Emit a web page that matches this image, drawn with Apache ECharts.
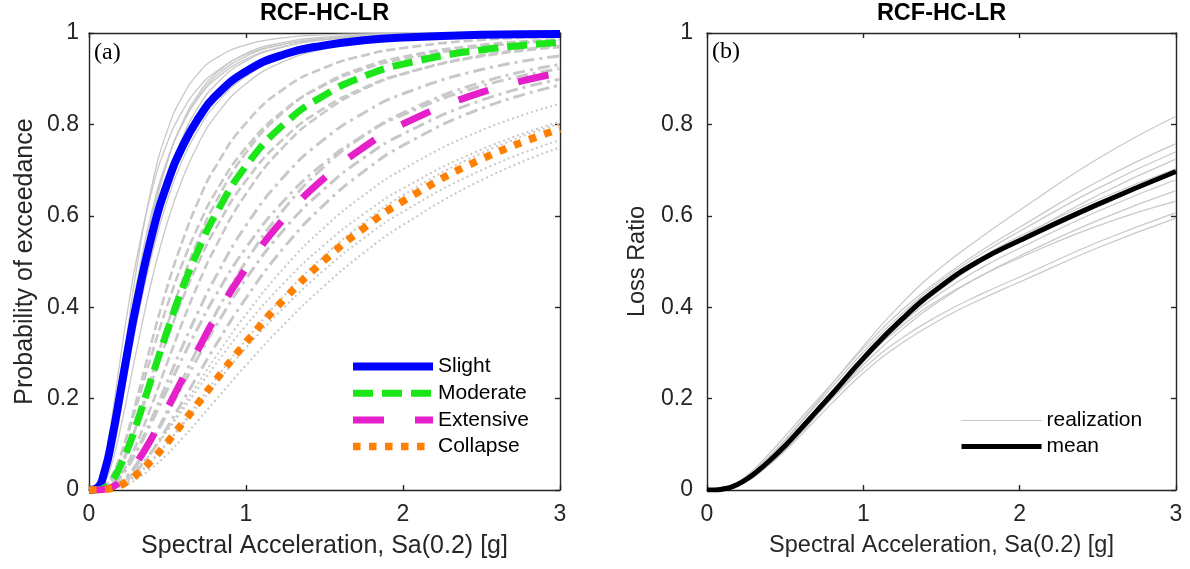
<!DOCTYPE html>
<html>
<head>
<meta charset="utf-8">
<title>RCF-HC-LR</title>
<script src="https://cdn.jsdelivr.net/npm/echarts@6/dist/echarts.min.js"></script>
<style>
  html, body { margin: 0; padding: 0; background: #fff; }
  #chart { width: 1190px; height: 569px; }
</style>
</head>
<body>
<div id="chart"></div>
<script>
// Sa(0.2) [g] sample points shared by every curve
let saGrid = [0, 0.05, 0.1, 0.15, 0.2, 0.25, 0.3, 0.4, 0.5, 0.6, 0.7, 0.8, 1.0, 1.25, 1.5, 1.75, 2.0, 2.5, 3.0];

// (a) fragility, mean curves
let slightMean    = [0, 0.004, 0.042, 0.119, 0.214, 0.312, 0.403, 0.557, 0.672, 0.755, 0.815, 0.860, 0.916, 0.954, 0.973, 0.984, 0.990, 0.996, 0.998];
let moderateMean  = [0, 0, 0.005, 0.022, 0.053, 0.093, 0.141, 0.246, 0.350, 0.445, 0.528, 0.599, 0.709, 0.803, 0.864, 0.905, 0.932, 0.963, 0.979];
let extensiveMean = [0, 0, 0.002, 0.007, 0.019, 0.036, 0.058, 0.114, 0.179, 0.246, 0.311, 0.374, 0.485, 0.597, 0.683, 0.750, 0.801, 0.870, 0.913];
let collapseMean  = [0, 0, 0.001, 0.004, 0.010, 0.020, 0.033, 0.065, 0.105, 0.148, 0.192, 0.237, 0.323, 0.420, 0.503, 0.573, 0.632, 0.724, 0.790];

// (a) fragility, grey realizations
let slightReal = [
  [0, 0.006, 0.063, 0.168, 0.288, 0.401, 0.500, 0.655, 0.761, 0.832, 0.881, 0.913, 0.953, 0.976, 0.987, 0.993, 0.996, 0.998, 0.999],
  [0, 0.001, 0.029, 0.113, 0.233, 0.360, 0.478, 0.665, 0.788, 0.864, 0.913, 0.943, 0.974, 0.990, 0.996, 0.998, 0.999, 1, 1],
  [0, 0.002, 0.032, 0.108, 0.212, 0.321, 0.425, 0.598, 0.721, 0.805, 0.862, 0.903, 0.949, 0.976, 0.988, 0.993, 0.996, 0.999, 1],
  [0, 0.001, 0.020, 0.079, 0.168, 0.271, 0.371, 0.548, 0.681, 0.775, 0.840, 0.885, 0.939, 0.971, 0.986, 0.992, 0.996, 0.999, 1],
  [0, 0.002, 0.029, 0.092, 0.176, 0.268, 0.359, 0.514, 0.635, 0.726, 0.791, 0.841, 0.905, 0.947, 0.969, 0.982, 0.988, 0.995, 0.998],
  [0, 0.001, 0.017, 0.063, 0.134, 0.216, 0.301, 0.459, 0.587, 0.685, 0.760, 0.816, 0.889, 0.939, 0.965, 0.979, 0.987, 0.995, 0.998],
  [0, 0.003, 0.044, 0.130, 0.238, 0.346, 0.446, 0.609, 0.724, 0.803, 0.859, 0.897, 0.943, 0.971, 0.985, 0.991, 0.995, 0.998, 0.999],
  [0, 0.001, 0.022, 0.086, 0.184, 0.294, 0.402, 0.586, 0.718, 0.808, 0.868, 0.909, 0.955, 0.980, 0.991, 0.995, 0.998, 0.999, 1]
];
let moderateReal = [
  [0, 0, 0.007, 0.032, 0.075, 0.130, 0.193, 0.325, 0.446, 0.549, 0.635, 0.704, 0.803, 0.880, 0.924, 0.951, 0.967, 0.985, 0.992],
  [0, 0.001, 0.009, 0.034, 0.074, 0.125, 0.181, 0.297, 0.405, 0.500, 0.580, 0.648, 0.749, 0.833, 0.886, 0.921, 0.943, 0.970, 0.983],
  [0, 0, 0.004, 0.019, 0.048, 0.090, 0.139, 0.251, 0.362, 0.463, 0.551, 0.625, 0.738, 0.830, 0.888, 0.925, 0.948, 0.974, 0.986],
  [0, 0, 0.006, 0.024, 0.054, 0.094, 0.139, 0.237, 0.333, 0.422, 0.500, 0.568, 0.677, 0.772, 0.836, 0.880, 0.911, 0.949, 0.969],
  [0, 0, 0.002, 0.012, 0.032, 0.061, 0.098, 0.186, 0.280, 0.371, 0.454, 0.528, 0.648, 0.755, 0.827, 0.877, 0.910, 0.951, 0.972]
];
let extensiveReal = [
  [0, 0, 0.002, 0.011, 0.028, 0.052, 0.083, 0.157, 0.238, 0.318, 0.393, 0.462, 0.579, 0.689, 0.768, 0.825, 0.867, 0.920, 0.950],
  [0, 0, 0.003, 0.013, 0.030, 0.053, 0.082, 0.149, 0.221, 0.292, 0.359, 0.422, 0.530, 0.636, 0.716, 0.776, 0.821, 0.884, 0.922],
  [0, 0, 0.001, 0.005, 0.015, 0.031, 0.052, 0.108, 0.175, 0.245, 0.315, 0.382, 0.500, 0.618, 0.708, 0.775, 0.825, 0.892, 0.931],
  [0, 0, 0.001, 0.007, 0.018, 0.034, 0.055, 0.107, 0.168, 0.231, 0.294, 0.354, 0.462, 0.573, 0.659, 0.727, 0.779, 0.853, 0.899],
  [0, 0, 0.001, 0.004, 0.012, 0.024, 0.040, 0.084, 0.138, 0.196, 0.255, 0.313, 0.420, 0.534, 0.625, 0.697, 0.754, 0.835, 0.886]
];
let collapseReal = [
  [0, 0, 0.001, 0.005, 0.014, 0.026, 0.042, 0.083, 0.132, 0.184, 0.236, 0.288, 0.384, 0.489, 0.575, 0.645, 0.702, 0.787, 0.845],
  [0, 0, 0.002, 0.007, 0.016, 0.029, 0.045, 0.084, 0.130, 0.177, 0.225, 0.272, 0.360, 0.456, 0.537, 0.604, 0.660, 0.745, 0.806],
  [0, 0, 0.001, 0.004, 0.010, 0.019, 0.031, 0.064, 0.104, 0.148, 0.194, 0.240, 0.328, 0.428, 0.513, 0.585, 0.645, 0.737, 0.802],
  [0, 0, 0.001, 0.005, 0.011, 0.021, 0.034, 0.065, 0.103, 0.144, 0.186, 0.229, 0.311, 0.402, 0.482, 0.551, 0.609, 0.700, 0.766],
  [0, 0, 0.001, 0.002, 0.007, 0.013, 0.023, 0.048, 0.079, 0.115, 0.154, 0.194, 0.273, 0.365, 0.447, 0.519, 0.580, 0.678, 0.750]
];

// (b) vulnerability
let lossMean = [0, 0, 0.002, 0.006, 0.013, 0.023, 0.035, 0.064, 0.097, 0.134, 0.172, 0.210, 0.288, 0.375, 0.447, 0.503, 0.546, 0.625, 0.697];
let lossReal = [
  [0, 0, 0.002, 0.007, 0.015, 0.027, 0.041, 0.074, 0.110, 0.150, 0.190, 0.232, 0.315, 0.410, 0.488, 0.552, 0.612, 0.725, 0.818],
  [0, 0, 0.003, 0.009, 0.018, 0.030, 0.045, 0.080, 0.118, 0.157, 0.195, 0.233, 0.310, 0.395, 0.463, 0.523, 0.575, 0.675, 0.758],
  [0, 0, 0.002, 0.007, 0.015, 0.026, 0.040, 0.072, 0.108, 0.147, 0.186, 0.225, 0.302, 0.387, 0.458, 0.516, 0.566, 0.660, 0.740],
  [0, 0, 0.001, 0.004, 0.010, 0.018, 0.029, 0.056, 0.089, 0.125, 0.163, 0.202, 0.280, 0.368, 0.440, 0.499, 0.550, 0.645, 0.724],
  [0, 0, 0.002, 0.006, 0.013, 0.023, 0.036, 0.066, 0.100, 0.137, 0.174, 0.211, 0.285, 0.366, 0.432, 0.485, 0.529, 0.610, 0.679],
  [0, 0, 0.001, 0.004, 0.010, 0.019, 0.030, 0.058, 0.090, 0.126, 0.163, 0.200, 0.274, 0.352, 0.416, 0.468, 0.512, 0.590, 0.655],
  [0, 0, 0.002, 0.006, 0.012, 0.022, 0.034, 0.063, 0.096, 0.131, 0.166, 0.200, 0.266, 0.333, 0.385, 0.428, 0.466, 0.542, 0.607],
  [0, 0, 0.001, 0.004, 0.010, 0.018, 0.029, 0.055, 0.086, 0.120, 0.155, 0.190, 0.256, 0.322, 0.374, 0.417, 0.455, 0.530, 0.595],
  [0, 0, 0.001, 0.005, 0.011, 0.020, 0.032, 0.061, 0.095, 0.132, 0.171, 0.210, 0.290, 0.378, 0.450, 0.508, 0.555, 0.635, 0.703],
  [0, 0, 0.002, 0.006, 0.014, 0.024, 0.037, 0.068, 0.102, 0.139, 0.176, 0.213, 0.285, 0.360, 0.420, 0.468, 0.508, 0.578, 0.632]
];

let stateNames = ['Slight', 'Moderate', 'Extensive', 'Collapse'];
let sansFont = 'Liberation Sans, Arial, Helvetica, sans-serif';
let axisColor = '#262626';
let grey = '#c8c8c8';

function pairs(ys) {
  return saGrid.map(function (x, i) { return [x, ys[i]]; });
}

function curve(panel, ys, lineStyle, name) {
  return {
    name: name,
    type: 'line',
    xAxisIndex: panel * 2,
    yAxisIndex: panel * 2,
    data: pairs(ys),
    symbol: 'none',
    smooth: 0.5,
    silent: true,
    lineStyle: lineStyle
  };
}

function xAxis(grid, position, name, nameSize) {
  let bottom = position === 'bottom';
  return {
    type: 'value', gridIndex: grid, position: position,
    min: 0, max: 3, interval: 1,
    axisLine: { show: true, onZero: false, lineStyle: { color: axisColor, width: 1.4 } },
    axisTick: { show: true, inside: true, length: 5, lineStyle: { color: axisColor, width: 1.4 } },
    axisLabel: { show: bottom, margin: 13, fontSize: 23, color: axisColor, fontFamily: sansFont },
    splitLine: { show: false },
    name: bottom ? name : '',
    nameLocation: 'middle',
    nameGap: 44,
    nameTextStyle: { fontSize: nameSize, color: axisColor, fontFamily: sansFont }
  };
}

function yAxis(grid, position, name, nameSize, labelMargin, nameGap) {
  let left = position === 'left';
  return {
    type: 'value', gridIndex: grid, position: position,
    min: 0, max: 1, interval: 0.2,
    axisLine: { show: true, onZero: false, lineStyle: { color: axisColor, width: 1.4 } },
    axisTick: { show: true, inside: true, length: 5, lineStyle: { color: axisColor, width: 1.4 } },
    axisLabel: { show: left, margin: labelMargin, fontSize: 23, color: axisColor, fontFamily: sansFont },
    splitLine: { show: false },
    name: left ? name : '',
    nameLocation: 'middle',
    nameGap: nameGap,
    nameTextStyle: { fontSize: nameSize, color: axisColor, fontFamily: sansFont }
  };
}

let series = [];
slightReal.forEach(function (ys) { series.push(curve(0, ys, { color: grey, width: 1.3 })); });
moderateReal.forEach(function (ys) { series.push(curve(0, ys, { color: grey, width: 2.6, type: [9, 4] })); });
extensiveReal.forEach(function (ys) { series.push(curve(0, ys, { color: grey, width: 3, type: [12, 5, 3, 5] })); });
collapseReal.forEach(function (ys) { series.push(curve(0, ys, { color: grey, width: 2, type: [2, 3] })); });
series.push(curve(0, slightMean, { color: '#0000ff', width: 8 }, stateNames[0]));
series.push(curve(0, moderateMean, { color: '#1ae61a', width: 7, type: [20, 9] }, stateNames[1]));
series.push(curve(0, extensiveMean, { color: '#e51fc9', width: 7, type: [31, 31] }, stateNames[2]));
series.push(curve(0, collapseMean, { color: '#ff8000', width: 7.5, type: [7.5, 8.5] }, stateNames[3]));
lossReal.forEach(function (ys) { series.push(curve(1, ys, { color: grey, width: 1.2 }, 'realization')); });
series.push(curve(1, lossMean, { color: '#000000', width: 5 }, 'mean'));

// legend icons: line only, the marker circle is made invisible
let legendBase = {
  orient: 'vertical',
  padding: 0,
  itemWidth: 80,
  itemHeight: 21,
  selectedMode: false,
  lineStyle: { width: 'inherit' },
  itemStyle: { color: 'rgba(0,0,0,0)', borderColor: 'rgba(0,0,0,0)', borderWidth: 0, opacity: 0 },
  textStyle: { fontSize: 21, color: '#000', fontFamily: sansFont }
};

let myChart = echarts.init(document.getElementById('chart'), null, { renderer: 'canvas' });
let option = {
  animation: false,
  backgroundColor: '#ffffff',
  grid: [
    { left: 89, top: 33, width: 471, height: 457, containLabel: false, outerBoundsMode: 'none' },
    { left: 707, top: 33, width: 469, height: 457, containLabel: false, outerBoundsMode: 'none' }
  ],
  xAxis: [
    xAxis(0, 'bottom', 'Spectral Acceleration, Sa(0.2) [g]', 25),
    xAxis(0, 'top'),
    xAxis(1, 'bottom', 'Spectral Acceleration, Sa(0.2) [g]', 23.5),
    xAxis(1, 'top')
  ],
  yAxis: [
    yAxis(0, 'left', 'Probability of exceedance', 25, 10, 51),
    yAxis(0, 'right', '', 25, 10, 0),
    yAxis(1, 'left', 'Loss Ratio', 23.5, 14, 57),
    yAxis(1, 'right', '', 23.5, 14, 0)
  ],
  legend: [
    Object.assign({}, legendBase, { data: stateNames, left: 349, top: 356, itemGap: 5.7 }),
    Object.assign({}, legendBase, { data: ['realization', 'mean'], left: 959, top: 410, itemGap: 5 })
  ],
  graphic: [
    { type: 'text', x: 324.5, y: 14, silent: true,
      style: { text: 'RCF-HC-LR', font: 'bold 23.5px ' + sansFont, fill: '#000', align: 'center', verticalAlign: 'middle' } },
    { type: 'text', x: 941.5, y: 14, silent: true,
      style: { text: 'RCF-HC-LR', font: 'bold 23.5px ' + sansFont, fill: '#000', align: 'center', verticalAlign: 'middle' } },
    { type: 'text', x: 94, y: 53, silent: true,
      style: { text: '(a)', font: '24px Liberation Serif, Times New Roman, serif', fill: '#000', align: 'left', verticalAlign: 'middle' } },
    { type: 'text', x: 712, y: 52, silent: true,
      style: { text: '(b)', font: '24px Liberation Serif, Times New Roman, serif', fill: '#000', align: 'left', verticalAlign: 'middle' } }
  ],
  series: series
};
myChart.setOption(option);
</script>
</body>
</html>
